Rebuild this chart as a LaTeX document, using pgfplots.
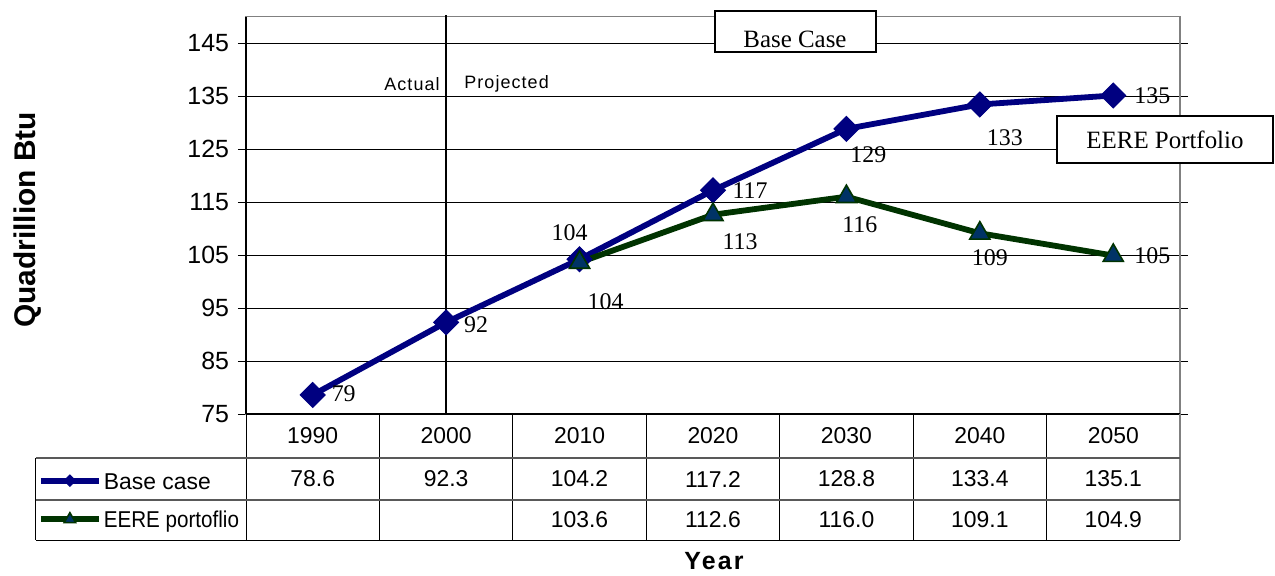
\documentclass[border=0pt]{standalone}
\usepackage{fontspec}
\setmainfont{Liberation Sans}
\newfontfamily\serif{Liberation Serif}
\usepackage{pgfplots}
\pgfplotsset{compat=1.18}
\definecolor{basecol}{RGB}{0,0,128}
\definecolor{eerecol}{RGB}{0,51,0}
\definecolor{trifill}{RGB}{0,51,102}
\begin{document}
\begin{tikzpicture}
\useasboundingbox (-123bp,-81bp) rectangle (514.5bp,207bp);
\begin{axis}[
  at={(0,0)}, anchor=south west,
  scale only axis, width=467bp, height=198.75bp,
  xmin=-0.5, xmax=6.5, ymin=75, ymax=150,
  clip=false,
  ytick={75,85,...,145},
  xtick={0,...,6},
  xticklabels={1990,2000,2010,2020,2030,2040,2050},
  x tick style={draw=none},
  y tick style={black, line width=0.5bp},
  tick align=outside,
  major tick length=4bp,
  ymajorgrids,
  grid style={black, line width=0.5bp},
  axis line style={draw=gray, line width=0.6bp},
  /pgf/number format/assume math mode=true,
  yticklabel style={font=\fontsize{12.5}{14}\selectfont, anchor=east, xshift=-1bp},
  xticklabel style={font=\fontsize{11.5}{13}\selectfont, anchor=base, yshift=-10.5bp},
  legend style={at={(0,0)}, anchor=west, xshift=-104bp, yshift=-43bp,
    draw=none, fill=none, inner sep=0pt, outer sep=0pt,
    font=\fontsize{11.5}{13}\selectfont, row sep=9bp,
    nodes={inner sep=1bp, text height=8.3bp, text depth=0bp}},
  legend cell align=left,
  legend image code/.code={\draw[mark repeat=2,mark phase=2,#1] plot coordinates {(0bp,0bp)(14.5bp,0bp)(29bp,0bp)};},
]
\addplot[color=basecol, line width=2.9bp, mark=square*, mark size=4.4bp,
  mark options={rotate=45, fill=basecol, draw=basecol, line width=0.5bp},
  legend image post style={mark size=2bp}]
  coordinates {(0,78.6)(1,92.3)(2,104.2)(3,117.2)(4,128.8)(5,133.4)(6,135.1)};
\addlegendentry{Base case}
\addplot[color=eerecol, line width=2.9bp, mark=triangle*, mark size=5.8bp,
  mark options={fill=trifill, draw=eerecol, line width=0.8bp},
  legend image post style={mark size=3.3bp}]
  coordinates {(2,103.6)(3,112.6)(4,116.0)(5,109.1)(6,104.9)};
\addlegendentry{\scalebox{0.9}[1]{EERE portoflio}}
% axis lines
\draw[black, line width=0.6bp] (rel axis cs:0,0) -- (rel axis cs:0,1);
\draw[black, line width=1.2bp] (rel axis cs:0,0) -- (rel axis cs:1,0);
\draw[black, line width=0.7bp] (axis cs:1,75) -- (axis cs:1,150.3);
% data labels
\tikzset{lbl/.style={font=\serif\fontsize{12}{14}\selectfont, inner sep=0pt, anchor=center}}
\node[lbl, xshift=15.5bp, yshift=0.5bp] at (axis cs:0,78.6) {79};
\node[lbl, xshift=15bp, yshift=-1bp] at (axis cs:1,92.3) {92};
\node[lbl, xshift=-5bp, yshift=13.5bp] at (axis cs:2,104.2) {104};
\node[lbl, xshift=18.5bp, yshift=0bp] at (axis cs:3,117.2) {117};
\node[lbl, xshift=11bp, yshift=-13bp] at (axis cs:4,128.8) {129};
\node[lbl, xshift=12.5bp, yshift=-16.5bp] at (axis cs:5,133.4) {133};
\node[lbl, xshift=19.5bp, yshift=0bp] at (axis cs:6,135.1) {135};
\node[lbl, xshift=13bp, yshift=-19.5bp] at (axis cs:2,103.6) {104};
\node[lbl, xshift=13.5bp, yshift=-13.3bp] at (axis cs:3,112.6) {113};
\node[lbl, xshift=6.7bp, yshift=-13.8bp] at (axis cs:4,116.0) {116};
\node[lbl, xshift=5bp, yshift=-12bp] at (axis cs:5,109.1) {109};
\node[lbl, xshift=19.5bp, yshift=0bp] at (axis cs:6,104.9) {105};
\end{axis}
% text boxes
\draw[black, line width=0.8bp, fill=white] (234.5bp,181bp) rectangle (315bp,201.5bp);
\node[font=\serif\fontsize{12.5}{14}\selectfont, anchor=base, inner sep=0pt] at (274.5bp,183bp) {Base Case};
\draw[black, line width=0.8bp, fill=white] (405.5bp,125.5bp) rectangle (513.5bp,149bp);
\node[font=\serif\fontsize{12.5}{14}\selectfont, anchor=center, inner sep=0pt] at (459.5bp,137bp) {EERE Portfolio};
% Actual / Projected
\node[font=\fontsize{9}{10}\selectfont\addfontfeatures{LetterSpace=6}, anchor=east, inner sep=0pt] at (97bp,165bp) {Actual};
\node[font=\fontsize{9}{10}\selectfont\addfontfeatures{LetterSpace=6}, anchor=west, inner sep=0pt] at (109bp,165bp) {Projected};
% table grid
\foreach \k in {1,...,6} \draw[black, line width=0.5bp] ({\k*66.7143bp},0) -- ({\k*66.7143bp},-63bp);
\draw[gray, line width=0.6bp] (467bp,0) -- (467bp,-63bp);
\draw[black, line width=0.5bp] (0,0) -- (0,-63bp);
\draw[black, line width=0.5bp] (-105bp,-22bp) -- (-105bp,-63bp);
\draw[gray!70!black, line width=0.6bp] (-105bp,-22bp) -- (467bp,-22bp);
\draw[gray!70!black, line width=0.6bp] (-105bp,-43bp) -- (467bp,-43bp);
\draw[black, line width=0.5bp] (-105bp,-63bp) -- (467bp,-63bp);
% table values
\foreach \v [count=\i from 0] in {78.6,92.3,104.2,117.2,128.8,133.4,135.1}
  \node[font=\fontsize{11.5}{13}\selectfont, inner sep=0pt] at ({(\i+0.5)*66.7143bp},-32.5bp) {\v};
\foreach \i/\v in {2/103.6,3/112.6,4/116.0,5/109.1,6/104.9}
  \node[font=\fontsize{11.5}{13}\selectfont, inner sep=0pt] at ({(\i+0.5)*66.7143bp},-53bp) {\v};
% axis titles
\node[font=\bfseries\fontsize{12.5}{14}\selectfont\addfontfeatures{LetterSpace=9}, inner sep=0pt] at (234bp,-73.5bp) {Year};
\node[font=\bfseries\fontsize{15}{17}\selectfont, rotate=90, inner sep=0pt] at (-109bp,97bp) {Quadrillion Btu};
\end{tikzpicture}
\end{document}
